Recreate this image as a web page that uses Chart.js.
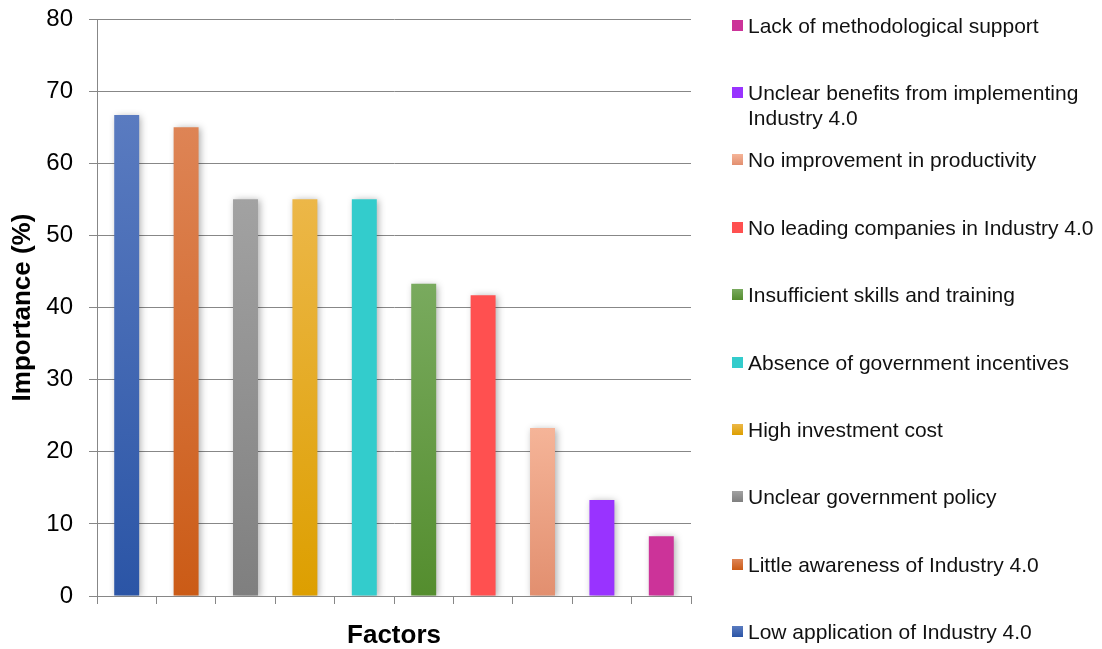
<!DOCTYPE html>
<html>
<head>
<meta charset="utf-8">
<script src="https://cdn.jsdelivr.net/npm/chart.js@4.4.1/dist/chart.umd.min.js"></script>
<style>
  html, body { margin: 0; padding: 0; background: #fff; }
  #wrap { position: relative; width: 1102px; height: 649px; }
  #legend { position: absolute; left: 732px; top: 0; width: 370px; height: 649px;
    font-family: 'Liberation Sans', Arial, sans-serif; font-size: 21px; color: #111; }
  .leg-item { position: absolute; left: 0; width: 369px; line-height: 25px; }
  .leg-dot { position: absolute; left: 0; top: 7px; width: 11px; height: 11px; }
  .leg-text { margin-left: 16px; }
</style>
</head>
<body>
<div id="wrap">
  <canvas id="c" width="1102" height="649"></canvas>
  <div id="legend"></div>
</div>
<script>
const FACTORS = [
  'Low application of Industry 4.0',
  'Little awareness of Industry 4.0',
  'Unclear government policy',
  'High investment cost',
  'Absence of government incentives',
  'Insufficient skills and training',
  'No leading companies in Industry 4.0',
  'No improvement in productivity',
  'Unclear benefits from implementing Industry 4.0',
  'Lack of methodological support'
];
const IMPORTANCE = [66.7, 65.0, 55.0, 55.0, 55.0, 43.3, 41.7, 23.3, 13.3, 8.3];
// top / bottom shade of each bar
const TOP_COLORS = ['#5a7bc0', '#de8455', '#a2a2a2', '#ecb748', '#33cccc', '#79aa5e', '#ff5050', '#f5b498', '#9933ff', '#cc3399'];
const BOTTOM_COLORS = ['#2b55a6', '#cb5b16', '#7f7f7f', '#dd9f00', '#33cccc', '#548d2e', '#ff5050', '#e28f6f', '#9933ff', '#cc3399'];
const Y_TICKS = [0, 10, 20, 30, 40, 50, 60, 70, 80];

const GRID = '#878787';
const FONT = "'Liberation Sans', Arial, sans-serif";

function barFill(c) {
  const i = c.dataIndex;
  const chart = c.chart;
  if (!chart.chartArea || i === undefined) return TOP_COLORS[i] || '#888';
  const y = chart.scales.y;
  const g = chart.ctx.createLinearGradient(0, y.getPixelForValue(IMPORTANCE[i]), 0, y.getPixelForValue(0));
  g.addColorStop(0, TOP_COLORS[i]);
  g.addColorStop(1, BOTTOM_COLORS[i]);
  return g;
}

// soft grey halo behind the bars
const barShadow = {
  id: 'barShadow',
  beforeDatasetsDraw(chart) {
    const ctx = chart.ctx;
    ctx.save();
    ctx.shadowColor = 'rgba(0,0,0,0.32)';
    ctx.shadowBlur = 7;
    ctx.shadowOffsetX = 2;
    ctx.shadowOffsetY = 1;
  },
  afterDatasetsDraw(chart) { chart.ctx.restore(); }
};

const chart = new Chart(document.getElementById('c'), {
  type: 'bar',
  data: {
    labels: FACTORS,
    datasets: [{
      data: IMPORTANCE,
      backgroundColor: barFill,
      borderWidth: 0,
      barPercentage: 0.42,
      categoryPercentage: 1
    }]
  },
  options: {
    responsive: false,
    animation: false,
    layout: { padding: { top: 19, right: 411, left: 0, bottom: 0 } },
    plugins: { legend: { display: false }, tooltip: { enabled: false } },
    scales: {
      x: {
        afterFit: s => { s.height = 53; s.paddingLeft = 0; s.paddingRight = 0; },
        grid: { offset: true, drawOnChartArea: false, color: GRID, tickLength: 8 },
        border: { color: GRID },
        ticks: { display: false },
        title: { display: true, text: 'Factors', color: '#000', padding: 0,
          font: { family: FONT, size: 26, weight: 'bold', lineHeight: 1 } }
      },
      y: {
        min: 0, max: 80,
        afterFit: s => { s.width = 97; s.paddingTop = 0; s.paddingBottom = 0; },
        afterBuildTicks: s => { s.ticks = Y_TICKS.map(v => ({ value: v })); },
        grid: { color: GRID, tickLength: 8 },
        border: { color: GRID },
        ticks: { color: '#000', padding: 16, font: { family: FONT, size: 24 } },
        title: { display: true, text: 'Importance (%)', color: '#000', padding: { top: 10, bottom: 0 },
          font: { family: FONT, size: 26, weight: 'bold', lineHeight: 1 } }
      }
    }
  },
  plugins: [barShadow]
});

// legend on the right, last factor first
const legend = document.getElementById('legend');
const STEP = 67.4;
FACTORS.slice().reverse().forEach((name, k) => {
  const i = FACTORS.length - 1 - k;
  const item = document.createElement('div');
  item.className = 'leg-item';
  item.style.top = (25 + k * STEP - 12.5) + 'px';
  item.innerHTML = '<span class="leg-dot" style="background:linear-gradient(' + TOP_COLORS[i] + ',' + BOTTOM_COLORS[i] + ')"></span>' +
    '<div class="leg-text"></div>';
  item.querySelector('.leg-text').textContent = name;
  legend.appendChild(item);
});
</script>
</body>
</html>
